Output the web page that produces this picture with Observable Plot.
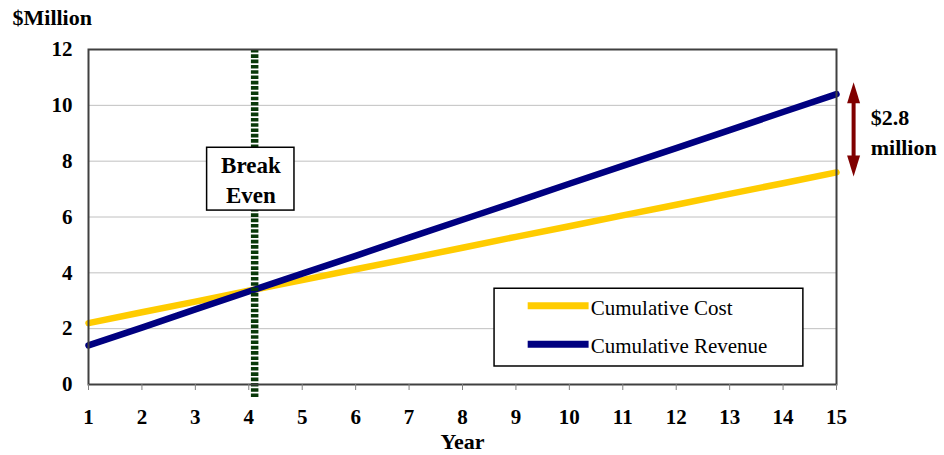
<!DOCTYPE html>
<html>
<head>
<meta charset="utf-8">
<script src="https://cdn.jsdelivr.net/npm/d3@7"></script>
<script src="https://cdn.jsdelivr.net/npm/@observablehq/plot@0.6"></script>
<style>
  html, body { margin: 0; padding: 0; background: #fff; }
</style>
</head>
<body>
<div id="chart"></div>
<script>
// ---- data ----
const years = [1, 2, 3, 4, 5, 6, 7, 8, 9, 10, 11, 12, 13, 14, 15];
const cumulativeCost = [2.2, 2.59, 2.97, 3.36, 3.74, 4.13, 4.51, 4.9, 5.29, 5.67, 6.06, 6.44, 6.83, 7.21, 7.6];
const cumulativeRevenue = [1.4, 2.04, 2.69, 3.33, 3.97, 4.61, 5.26, 5.9, 6.54, 7.19, 7.83, 8.47, 9.11, 9.76, 10.4];
const seriesNames = ["Cumulative Cost", "Cumulative Revenue"];
const seriesColors = ["#FFCC00", "#000080"];
const yTicks = [0, 2, 4, 6, 8, 10, 12];
const gridTicks = [2, 4, 6, 8, 10];
const breakEvenYear = 4.11;
const breakEvenLabel = "Break\nEven";
const gapLabel = "$2.8\nmillion";
const yTitle = "$Million";
const xTitle = "Year";

const rows = [];
years.forEach((yr, i) => {
  rows.push({year: yr, value: cumulativeCost[i], series: seriesNames[0]});
  rows.push({year: yr, value: cumulativeRevenue[i], series: seriesNames[1]});
});

// legend entries placed in the lower-right of the plot
const legendRows = seriesNames.map((s, i) => ({series: s, y: [2.82, 1.44][i]}));

// tall narrow filled triangle for the double arrow heads
const headSymbol = {
  draw(ctx) {
    ctx.moveTo(0, -10.5);
    ctx.lineTo(6.5, 10.5);
    ctx.lineTo(-6.5, 10.5);
    ctx.closePath();
  }
};

const chart = Plot.plot({
  width: 944,
  height: 455,
  marginLeft: 88,
  marginRight: 108,
  marginTop: 49,
  marginBottom: 71,
  style: {fontFamily: "'Liberation Serif', 'Times New Roman', serif", background: "#fff", color: "#000"},
  x: {domain: [1, 15]},
  y: {domain: [0, 12]},
  color: {domain: seriesNames, range: seriesColors},
  marks: [
    Plot.gridY(gridTicks, {stroke: "#c0c0c0", strokeOpacity: 1, strokeWidth: 1}),
    Plot.line(rows, {x: "year", y: "value", stroke: "series", strokeWidth: 6.5}),
    Plot.ruleX([breakEvenYear], {y1: 12, y2: -0.5, stroke: "#083808", strokeWidth: 7.5, strokeDasharray: "3.6 1.7"}),
    // Break Even box
    Plot.rect([breakEvenLabel], {x1: 3.22, x2: 4.855, y1: 6.23, y2: 8.48, fill: "white", stroke: "black", strokeWidth: 1.5}),
    Plot.text([breakEvenLabel], {x: 4.04, y: 7.38, text: d => d, fontSize: 23, fontWeight: "bold", lineHeight: 1.3, lineAnchor: "middle"}),
    // Legend
    Plot.rect([0], {x1: 8.6, x2: 14.38, y1: 0.645, y2: 3.43, fill: "white", stroke: "black", strokeWidth: 1.5}),
    Plot.link(legendRows, {x1: 9.22, x2: 10.36, y1: "y", y2: "y", stroke: "series", strokeWidth: 7}),
    Plot.text(legendRows, {x: 10.4, y: "y", text: "series", textAnchor: "start", fontSize: 21, dy: 2}),
    Plot.frame({stroke: "#404040", strokeWidth: 2}),
    Plot.axisX({ticks: years, tickFormat: d => String(d), tickSize: 6, tickPadding: 19, stroke: "#808080", fill: "black", fontSize: 21, fontWeight: "bold", label: null}),
    Plot.axisY({ticks: yTicks, tickSize: 0, tickPadding: 16, fontSize: 21, fontWeight: "bold", label: null}),
    Plot.text([yTitle], {frameAnchor: "top-left", text: d => d, textAnchor: "start", lineAnchor: "middle", dx: -76, dy: -32, fontSize: 22, fontWeight: "bold"}),
    Plot.text([xTitle], {frameAnchor: "bottom", text: d => d, lineAnchor: "middle", dy: 57, fontSize: 22, fontWeight: "bold"}),
    // $2.8 million double arrow
    Plot.ruleX([15.32], {y1: 10.3, y2: 7.95, stroke: "#800000", strokeWidth: 4}),
    Plot.dot([10.45], {x: 15.32, y: d => d, symbol: headSymbol, fill: "#800000", stroke: null}),
    Plot.dot([7.83], {x: 15.32, y: d => d, symbol: headSymbol, fill: "#800000", stroke: null, rotate: 180}),
    Plot.text([gapLabel], {x: 15.64, y: 9.1, text: d => d, textAnchor: "start", fontSize: 22, fontWeight: "bold", lineHeight: 1.36, lineAnchor: "middle"})
  ]
});
document.getElementById("chart").appendChild(chart);
</script>
</body>
</html>
